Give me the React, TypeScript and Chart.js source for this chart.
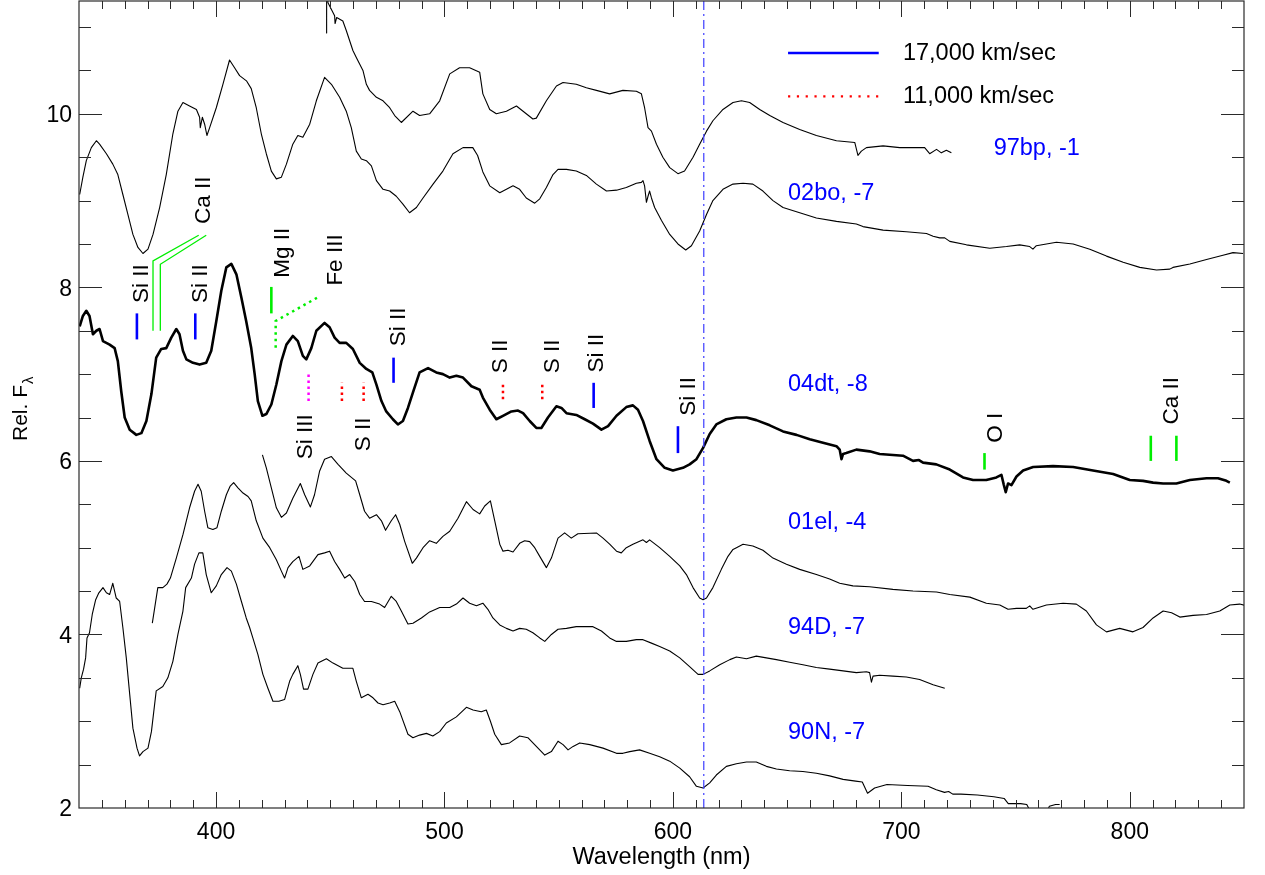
import React, { useEffect, useRef } from "react";
import { Chart, registerables } from "chart.js";

Chart.register(...registerables);

const X_MIN = 340;
const X_MAX = 850;
const Y_MIN = 2;
const Y_MAX = 11.3;
const X_TICKS = [400, 500, 600, 700, 800];
const Y_TICKS = [2, 4, 6, 8, 10];
const X_TITLE = "Wavelength (nm)";
const Y_TITLE = "Rel. F";
const Y_TITLE_SUB = "λ";

// [wavelength nm, relative flux]
const SN97BP: number[][] = [
  [448.3, 10.93], [448.4, 11.5], [449.0, 11.28], [451.9, 11.13], [452.1, 11.04], [452.8, 11.11],
  [455.5, 11.07], [457.0, 10.96], [459.9, 10.73], [461.4, 10.65], [464.3, 10.5], [465.8, 10.34],
  [467.2, 10.27], [470.2, 10.19], [473.1, 10.15], [476.0, 10.07], [478.2, 9.98], [481.1, 9.9],
  [486.2, 10.03], [489.1, 9.98], [493.5, 10.0], [497.9, 10.15], [502.3, 10.46], [506.6, 10.53],
  [511.0, 10.53], [515.4, 10.48], [516.8, 10.23], [519.8, 10.05], [522.7, 10.0], [527.1, 10.03],
  [531.5, 10.09], [534.4, 10.03], [538.7, 9.94], [540.2, 9.95], [544.6, 10.15], [549.0, 10.32],
  [551.9, 10.36], [557.7, 10.34], [562.1, 10.3], [566.5, 10.27], [572.3, 10.23], [578.1, 10.27],
  [584.0, 10.26], [586.2, 10.23], [587.6, 10.07], [589.1, 9.84], [590.6, 9.8], [592.8, 9.65],
  [595.6, 9.5], [598.6, 9.38], [602.2, 9.31], [605.1, 9.34], [608.8, 9.5], [611.7, 9.65],
  [614.7, 9.8], [617.5, 9.92], [621.9, 10.05], [626.3, 10.13], [630.0, 10.15], [633.6, 10.13],
  [638.0, 10.05], [642.4, 9.98], [648.2, 9.9], [655.5, 9.82], [662.8, 9.75], [671.6, 9.69],
  [679.6, 9.67], [681.0, 9.52], [682.5, 9.57], [684.7, 9.61], [692.0, 9.63], [699.3, 9.61],
  [710.2, 9.61], [712.4, 9.54], [715.4, 9.59], [717.5, 9.55], [719.7, 9.58], [721.9, 9.55],
];

const SN02BO: number[][] = [
  [340.3, 9.07], [341.7, 9.27], [343.2, 9.46], [345.4, 9.61], [347.6, 9.69], [349.0, 9.65],
  [352.0, 9.54], [354.8, 9.42], [357.0, 9.3], [359.2, 9.07], [361.4, 8.84], [363.6, 8.61],
  [365.8, 8.46], [368.0, 8.39], [370.2, 8.44], [372.4, 8.61], [375.3, 8.92], [378.2, 9.3],
  [381.1, 9.77], [383.3, 10.03], [385.5, 10.13], [388.4, 10.09], [391.4, 10.05], [392.8, 9.96],
  [393.1, 9.84], [394.0, 9.96], [395.0, 9.88], [396.0, 9.75], [397.2, 9.84], [400.1, 10.07],
  [403.0, 10.34], [405.9, 10.62], [408.1, 10.53], [410.3, 10.44], [413.3, 10.38], [415.4, 10.29],
  [417.6, 10.07], [419.8, 9.77], [422.0, 9.54], [424.2, 9.34], [426.4, 9.25], [428.6, 9.27],
  [430.8, 9.42], [433.6, 9.65], [435.8, 9.75], [438.0, 9.73], [441.0, 9.88], [443.9, 10.15],
  [447.5, 10.42], [450.5, 10.34], [454.1, 10.19], [457.0, 10.03], [459.2, 9.84], [461.4, 9.57],
  [463.6, 9.48], [465.8, 9.46], [468.0, 9.4], [470.2, 9.23], [473.1, 9.13], [476.0, 9.11],
  [478.9, 9.05], [481.8, 8.96], [484.7, 8.86], [487.7, 8.92], [490.6, 9.03], [495.0, 9.19],
  [499.3, 9.34], [503.7, 9.54], [508.1, 9.61], [512.4, 9.61], [514.5, 9.52], [516.8, 9.33],
  [519.8, 9.17], [524.2, 9.09], [527.1, 9.13], [530.0, 9.17], [532.9, 9.13], [535.8, 9.03],
  [539.5, 8.97], [541.7, 9.02], [544.6, 9.15], [547.5, 9.3], [549.7, 9.36], [553.4, 9.36],
  [557.7, 9.34], [562.1, 9.29], [566.5, 9.19], [570.9, 9.11], [575.3, 9.12], [579.6, 9.15],
  [584.0, 9.2], [586.2, 9.21], [586.9, 9.23], [587.6, 9.17], [588.4, 8.98], [589.1, 9.05],
  [589.8, 9.11], [590.6, 9.03], [592.0, 8.92], [595.0, 8.77], [598.6, 8.61], [602.2, 8.5],
  [605.6, 8.43], [608.1, 8.48], [611.7, 8.65], [614.7, 8.84], [617.5, 9.0], [621.9, 9.13],
  [626.3, 9.19], [630.7, 9.2], [635.0, 9.19], [639.4, 9.11], [643.8, 9.0], [648.2, 8.92],
  [655.5, 8.86], [662.8, 8.8], [671.6, 8.76], [680.3, 8.73], [683.2, 8.7], [692.0, 8.66],
  [702.2, 8.64], [711.0, 8.62], [713.9, 8.59], [716.8, 8.57], [719.0, 8.57], [721.2, 8.53],
  [728.5, 8.49], [738.7, 8.45], [746.0, 8.47], [751.8, 8.49], [756.2, 8.47], [757.6, 8.44],
  [759.1, 8.48], [767.9, 8.52], [775.2, 8.5], [782.5, 8.44], [789.8, 8.36], [797.1, 8.29],
  [804.4, 8.23], [811.7, 8.2], [817.5, 8.21], [818.9, 8.23], [826.3, 8.27], [833.6, 8.32],
  [840.8, 8.37], [845.2, 8.4], [849.6, 8.39],
];

const SN04DT: number[][] = [
  [340.3, 7.55], [341.7, 7.67], [343.2, 7.73], [344.6, 7.67], [346.1, 7.46], [347.6, 7.5],
  [349.0, 7.52], [350.5, 7.38], [353.4, 7.34], [355.6, 7.3], [357.0, 7.15], [358.5, 6.8],
  [360.0, 6.5], [362.2, 6.36], [365.1, 6.3], [367.3, 6.32], [369.5, 6.46], [371.7, 6.77],
  [373.8, 7.19], [376.0, 7.29], [378.2, 7.3], [380.4, 7.42], [382.6, 7.52], [384.0, 7.46],
  [385.5, 7.27], [387.0, 7.17], [389.9, 7.13], [392.8, 7.11], [395.7, 7.13], [397.9, 7.27],
  [400.1, 7.61], [402.3, 7.96], [404.5, 8.23], [406.7, 8.27], [408.9, 8.15], [411.1, 7.88],
  [413.2, 7.61], [415.4, 7.3], [416.9, 7.0], [418.3, 6.69], [420.3, 6.52], [422.0, 6.54],
  [424.2, 6.65], [426.4, 6.88], [428.6, 7.15], [430.8, 7.34], [433.6, 7.44], [435.8, 7.38],
  [438.0, 7.21], [439.5, 7.17], [441.7, 7.3], [443.9, 7.5], [447.5, 7.59], [449.7, 7.54],
  [451.9, 7.42], [454.1, 7.36], [457.0, 7.36], [459.9, 7.29], [462.9, 7.13], [465.8, 7.06],
  [468.4, 7.02], [470.2, 6.88], [472.4, 6.69], [474.5, 6.57], [477.4, 6.48], [479.6, 6.42],
  [481.8, 6.46], [484.0, 6.61], [486.2, 6.79], [489.1, 7.02], [492.8, 7.07], [496.4, 7.02],
  [499.3, 7.0], [502.3, 6.96], [505.2, 6.98], [508.1, 6.96], [511.8, 6.86], [515.4, 6.82],
  [516.8, 6.73], [519.8, 6.59], [522.7, 6.48], [525.6, 6.52], [529.3, 6.57], [532.2, 6.58],
  [534.4, 6.55], [537.3, 6.46], [540.2, 6.38], [542.4, 6.38], [545.3, 6.5], [549.0, 6.63],
  [551.2, 6.61], [553.4, 6.55], [557.7, 6.53], [561.4, 6.48], [565.0, 6.43], [568.7, 6.36],
  [571.6, 6.4], [575.3, 6.52], [579.6, 6.62], [582.5, 6.64], [584.7, 6.59], [586.9, 6.46],
  [589.8, 6.23], [592.8, 6.02], [596.4, 5.92], [600.0, 5.89], [604.4, 5.92], [607.3, 5.96],
  [610.3, 6.02], [613.2, 6.15], [616.1, 6.31], [619.0, 6.42], [623.4, 6.48], [627.8, 6.5],
  [632.2, 6.5], [636.5, 6.47], [642.4, 6.41], [648.2, 6.34], [654.1, 6.3], [659.9, 6.25],
  [665.7, 6.21], [671.6, 6.17], [673.0, 6.13], [673.8, 6.02], [674.5, 6.08], [675.9, 6.09],
  [680.3, 6.13], [686.1, 6.11], [690.5, 6.08], [700.7, 6.06], [705.1, 6.0], [707.7, 6.01],
  [709.5, 5.98], [715.3, 5.96], [721.2, 5.9], [727.0, 5.81], [731.4, 5.78], [737.2, 5.78],
  [741.6, 5.81], [743.8, 5.84], [744.8, 5.73], [745.7, 5.64], [746.7, 5.74], [748.2, 5.72],
  [750.4, 5.82], [753.3, 5.89], [757.7, 5.93], [766.4, 5.94], [775.2, 5.93], [783.9, 5.89],
  [792.7, 5.85], [800.0, 5.78], [805.8, 5.77], [810.2, 5.75], [814.6, 5.74], [820.4, 5.74],
  [826.3, 5.78], [833.6, 5.8], [838.6, 5.8], [842.3, 5.77], [843.8, 5.75],
];

const SN01EL: number[][] = [
  [420.3, 6.07], [422.0, 5.92], [424.2, 5.69], [426.4, 5.46], [428.6, 5.35], [430.8, 5.4],
  [433.6, 5.57], [436.9, 5.74], [438.8, 5.61], [441.3, 5.47], [443.1, 5.61], [445.3, 5.88],
  [447.5, 6.02], [450.5, 6.05], [453.4, 5.96], [457.0, 5.86], [461.1, 5.77], [462.9, 5.61],
  [465.0, 5.42], [467.2, 5.34], [470.2, 5.38], [472.4, 5.31], [474.2, 5.2], [476.7, 5.31],
  [478.6, 5.38], [480.4, 5.27], [482.6, 5.07], [485.9, 4.82], [487.7, 4.88], [490.6, 5.0],
  [493.5, 5.08], [496.4, 5.05], [499.3, 5.13], [502.3, 5.19], [505.9, 5.34], [509.6, 5.53],
  [512.5, 5.44], [515.4, 5.39], [517.6, 5.48], [520.1, 5.54], [522.0, 5.31], [524.2, 5.04],
  [525.6, 4.96], [527.8, 4.97], [530.0, 4.95], [532.9, 5.05], [535.1, 5.08], [537.3, 5.07],
  [539.5, 5.0], [541.7, 4.9], [544.6, 4.77], [546.8, 4.88], [549.7, 5.11], [552.6, 5.17],
  [555.5, 5.11], [558.4, 5.16], [566.5, 5.17], [569.4, 5.11], [572.3, 5.04], [575.3, 4.96],
  [577.4, 4.94], [579.6, 5.0], [582.5, 5.04], [586.9, 5.09], [588.4, 5.06], [589.8, 5.09],
  [594.2, 5.0], [598.6, 4.9], [603.0, 4.79], [605.9, 4.69], [608.8, 4.54], [611.7, 4.42],
  [613.2, 4.4], [614.7, 4.42], [617.5, 4.54], [621.2, 4.75], [624.1, 4.9], [626.3, 4.98],
  [627.8, 5.0], [630.7, 5.04], [635.0, 5.02], [639.4, 4.97], [643.8, 4.88], [649.7, 4.81],
  [655.5, 4.75], [662.8, 4.69], [668.6, 4.64], [673.0, 4.59], [678.8, 4.56], [686.1, 4.55],
  [696.3, 4.52], [705.1, 4.5], [715.4, 4.49], [721.2, 4.46], [730.0, 4.43], [737.2, 4.36],
  [743.1, 4.34], [746.7, 4.29], [750.4, 4.3], [754.7, 4.3], [756.2, 4.33], [757.6, 4.29],
  [763.5, 4.34], [770.8, 4.36], [776.6, 4.35], [781.0, 4.27], [785.4, 4.11], [789.8, 4.03],
  [795.6, 4.07], [801.4, 4.03], [805.8, 4.08], [810.2, 4.19], [814.6, 4.27], [818.3, 4.25],
  [821.9, 4.2], [827.7, 4.22], [833.6, 4.23], [839.4, 4.27], [843.8, 4.34], [848.1, 4.35],
  [851.1, 4.33],
];

const SN94D: number[][] = [
  [372.1, 4.13], [373.1, 4.3], [374.5, 4.54], [376.7, 4.54], [378.5, 4.58], [380.0, 4.65],
  [382.6, 4.88], [385.5, 5.15], [388.4, 5.46], [390.6, 5.65], [392.1, 5.73], [393.5, 5.65],
  [395.0, 5.42], [396.4, 5.23], [398.6, 5.21], [400.4, 5.23], [402.3, 5.42], [404.5, 5.61],
  [406.2, 5.71], [407.7, 5.75], [409.6, 5.69], [411.8, 5.63], [414.0, 5.59], [415.4, 5.54],
  [417.6, 5.31], [420.5, 5.11], [423.5, 5.0], [426.4, 4.86], [428.6, 4.73], [430.0, 4.65],
  [431.5, 4.77], [433.6, 4.84], [436.3, 4.9], [438.0, 4.75], [441.0, 4.79], [444.6, 4.92],
  [447.5, 4.94], [449.7, 4.96], [451.9, 4.84], [454.1, 4.75], [456.3, 4.65], [458.5, 4.69],
  [460.7, 4.61], [462.9, 4.46], [465.0, 4.38], [468.0, 4.38], [471.6, 4.35], [473.8, 4.31],
  [476.7, 4.44], [478.9, 4.38], [481.1, 4.27], [484.0, 4.12], [486.2, 4.13], [489.9, 4.19],
  [493.5, 4.26], [497.9, 4.31], [502.3, 4.31], [505.2, 4.35], [508.1, 4.42], [511.0, 4.36],
  [514.0, 4.33], [516.8, 4.36], [519.0, 4.29], [521.2, 4.19], [524.2, 4.11], [527.1, 4.07],
  [530.0, 4.04], [532.9, 4.07], [535.8, 4.06], [538.7, 4.02], [541.7, 3.96], [543.9, 3.92],
  [546.8, 4.0], [549.7, 4.06], [553.4, 4.07], [557.7, 4.09], [561.4, 4.09], [565.0, 4.09],
  [568.7, 4.04], [572.3, 3.96], [575.3, 3.92], [579.6, 3.92], [584.0, 3.94], [586.9, 3.94],
  [590.6, 3.9], [594.2, 3.86], [598.6, 3.81], [603.0, 3.73], [607.3, 3.63], [611.0, 3.54],
  [613.2, 3.54], [616.1, 3.58], [620.5, 3.65], [624.9, 3.71], [627.8, 3.74], [632.2, 3.72],
  [636.5, 3.75], [640.9, 3.73], [645.3, 3.71], [651.1, 3.68], [656.9, 3.65], [662.8, 3.62],
  [668.6, 3.6], [674.5, 3.58], [680.3, 3.56], [684.7, 3.57], [686.1, 3.56], [686.9, 3.45],
  [687.6, 3.52], [690.5, 3.53], [696.3, 3.52], [702.2, 3.51], [708.0, 3.48], [713.9, 3.42],
  [719.0, 3.38],
];

const SN90N: number[][] = [
  [340.3, 3.38], [341.0, 3.5], [342.0, 3.6], [342.9, 3.73], [343.5, 3.96], [344.6, 4.02],
  [345.8, 4.23], [347.3, 4.4], [348.7, 4.48], [350.5, 4.54], [352.0, 4.48], [353.4, 4.46],
  [354.8, 4.59], [356.3, 4.42], [357.8, 4.38], [359.2, 4.08], [360.7, 3.73], [362.2, 3.31],
  [363.6, 2.92], [365.4, 2.69], [366.5, 2.6], [368.0, 2.65], [370.2, 2.69], [371.7, 2.88],
  [373.8, 3.35], [376.7, 3.4], [378.9, 3.5], [381.1, 3.69], [383.3, 4.0], [385.5, 4.27],
  [386.7, 4.54], [389.2, 4.65], [390.6, 4.81], [392.5, 4.94], [394.2, 4.94], [395.7, 4.69],
  [397.9, 4.48], [400.1, 4.56], [402.3, 4.69], [404.8, 4.77], [406.7, 4.73], [408.9, 4.58],
  [411.1, 4.38], [413.2, 4.19], [414.7, 4.08], [416.1, 3.96], [418.3, 3.77], [420.5, 3.54],
  [422.7, 3.38], [424.9, 3.23], [427.5, 3.23], [430.0, 3.25], [432.2, 3.46], [433.6, 3.54],
  [435.8, 3.64], [436.9, 3.54], [438.3, 3.37], [440.2, 3.37], [442.4, 3.54], [444.6, 3.67],
  [448.3, 3.72], [451.2, 3.67], [455.5, 3.61], [459.9, 3.61], [461.4, 3.46], [463.6, 3.27],
  [466.5, 3.31], [468.7, 3.27], [470.9, 3.21], [473.1, 3.19], [476.0, 3.21], [478.2, 3.23],
  [480.4, 3.11], [484.0, 2.85], [486.2, 2.81], [489.1, 2.84], [492.1, 2.86], [494.9, 2.83],
  [497.9, 2.88], [500.8, 2.98], [505.2, 3.05], [509.6, 3.16], [512.5, 3.13], [516.1, 3.11],
  [518.3, 3.13], [520.1, 3.0], [522.0, 2.85], [524.9, 2.73], [528.5, 2.75], [532.9, 2.83],
  [536.5, 2.81], [540.2, 2.71], [543.9, 2.61], [546.8, 2.65], [549.7, 2.77], [551.9, 2.73],
  [554.1, 2.67], [556.3, 2.71], [559.2, 2.75], [563.6, 2.73], [569.4, 2.69], [575.3, 2.63],
  [578.1, 2.63], [581.1, 2.65], [585.4, 2.67], [589.8, 2.63], [594.2, 2.59], [598.6, 2.54],
  [603.0, 2.46], [607.3, 2.36], [610.3, 2.25], [613.2, 2.23], [616.1, 2.29], [619.0, 2.38],
  [623.4, 2.48], [627.8, 2.51], [632.2, 2.53], [636.5, 2.53], [640.9, 2.48], [645.3, 2.45],
  [651.1, 2.43], [656.9, 2.42], [662.8, 2.4], [668.6, 2.37], [674.5, 2.33], [680.0, 2.31],
  [682.9, 2.3], [685.2, 2.17], [688.3, 2.23], [693.7, 2.27], [702.7, 2.26], [711.7, 2.25],
  [715.3, 2.21], [718.9, 2.18], [720.7, 2.19], [722.5, 2.16], [726.1, 2.16], [733.3, 2.15],
  [740.5, 2.13], [745.0, 2.11], [746.8, 2.05], [749.6, 2.05], [752.2, 2.05], [754.9, 2.04],
  [755.7, 2.0], [756.7, 1.9], [760.5, 1.82], [763.0, 1.91], [764.8, 2.02], [767.5, 2.04],
  [769.3, 2.04],
];

const SPECTRA = [SN97BP, SN02BO, SN04DT, SN01EL, SN94D, SN90N];
const SPECTRA_NAMES = ["97bp, -1", "02bo, -7", "04dt, -8", "01el, -4", "94D, -7", "90N, -7"];
const NAME_WL = [740.4, 650.4, 650.4, 650.4, 650.4, 650.4];
const NAME_FLUX = [9.6, 9.085, 6.882, 5.286, 4.08, 2.868];

// line-identification markers: [wl...], [flux...]
const BLUE = "#0000ff";
const GREEN = "#00ee00";
const RED = "#ff0000";
const MAGENTA = "#ff00ff";
const MARKERS = [
  { wl: [365.35, 365.35], fl: [7.4, 7.7], c: BLUE, d: [], w: 2.6 },
  { wl: [372.4, 372.4, 392.4], fl: [7.5, 8.305, 8.6], c: GREEN, d: [], w: 1.3 },
  { wl: [375.6, 375.6, 395.7], fl: [7.5, 8.266, 8.6], c: GREEN, d: [], w: 1.3 },
  { wl: [390.9, 390.9], fl: [7.4, 7.7], c: BLUE, d: [], w: 2.6 },
  { wl: [424.2, 424.2], fl: [7.7, 8.005], c: GREEN, d: [], w: 2.6 },
  { wl: [426.1, 426.1, 444.2], fl: [7.305, 7.612, 7.88], c: GREEN, d: [2.5, 4], w: 2.5 },
  { wl: [440.5, 440.5], fl: [6.69, 7.005], c: MAGENTA, d: [2.5, 3.5], w: 2.5 },
  { wl: [455.1, 455.1], fl: [6.69, 6.9], c: RED, d: [2.5, 3.5], w: 2.5 },
  { wl: [464.6, 464.6], fl: [6.69, 6.9], c: RED, d: [2.5, 3.5], w: 2.5 },
  { wl: [477.7, 477.7], fl: [6.9, 7.19], c: BLUE, d: [], w: 2.6 },
  { wl: [525.6, 525.6], fl: [6.71, 6.9], c: RED, d: [2.5, 3.5], w: 2.5 },
  { wl: [542.8, 542.8], fl: [6.71, 6.9], c: RED, d: [2.5, 3.5], w: 2.5 },
  { wl: [565.3, 565.3], fl: [6.61, 6.9], c: BLUE, d: [], w: 2.6 },
  { wl: [602.2, 602.2], fl: [6.09, 6.4], c: BLUE, d: [], w: 2.6 },
  { wl: [736.4, 736.4], fl: [5.9, 6.09], c: GREEN, d: [], w: 2.6 },
  { wl: [809.2, 809.2], fl: [6.0, 6.29], c: GREEN, d: [], w: 2.6 },
  { wl: [820.4, 820.4], fl: [6.0, 6.29], c: GREEN, d: [], w: 2.6 },
];

const ION_TEXT = ["Si II", "Ca II", "Si II", "Mg II", "Fe III", "Si III", "S II", "Si II", "S II", "S II", "Si II", "Si II", "O I", "Ca II"];
const ION_WL = [366.5, 393.9, 392.5, 428.6, 451.6, 438.4, 464.0, 479.3, 523.8, 546.8, 566.0, 606.0, 740.5, 817.7];
const ION_FLUX = [7.82, 8.73, 7.82, 8.11, 8.02, 6.02, 6.11, 7.32, 7.01, 7.01, 7.02, 6.52, 6.21, 6.42];

const VEL_WL = 613.5;
const LEGEND_TEXT = ["17,000 km/sec", "11,000 km/sec"];
const LEGEND_WL = [650.4, 690.1, 700.7];
const LEGEND_FLUX = [10.7, 10.2];

const FONT = '"Liberation Sans", Arial, Helvetica, sans-serif';

const overlayPlugin = {
  id: "overlay",
  afterDraw(chart: any) {
    const { ctx, chartArea: a, scales } = chart;
    const xs = scales.x;
    const ys = scales.y;
    ctx.save();
    // frame
    ctx.strokeStyle = "#2a2a2a";
    ctx.lineWidth = 1.2;
    ctx.setLineDash([]);
    ctx.strokeRect(a.left, a.top, a.right - a.left, a.bottom - a.top);
    // x ticks (inward, top and bottom)
    ctx.lineWidth = 1;
    ctx.beginPath();
    for (let v = X_MIN + 10; v < X_MAX; v += 10) {
      const px = Math.round(xs.getPixelForValue(v)) + 0.5;
      const len = v % 100 === 0 ? 16 : 8;
      ctx.moveTo(px, a.bottom);
      ctx.lineTo(px, a.bottom - len);
      ctx.moveTo(px, a.top);
      ctx.lineTo(px, a.top + len);
    }
    for (let v = Y_MIN + 0.5; v < Y_MAX; v += 0.5) {
      const py = Math.round(ys.getPixelForValue(v)) + 0.5;
      const len = Math.abs(v % 2) < 1e-6 ? 23 : 12;
      ctx.moveTo(a.left, py);
      ctx.lineTo(a.left + len, py);
      ctx.moveTo(a.right, py);
      ctx.lineTo(a.right - len, py);
    }
    ctx.stroke();

    // tick labels
    ctx.fillStyle = "#000";
    ctx.font = `23px ${FONT}`;
    ctx.textAlign = "center";
    ctx.textBaseline = "alphabetic";
    X_TICKS.forEach((v) => ctx.fillText(String(v), xs.getPixelForValue(v), a.bottom + 31));
    ctx.textAlign = "right";
    Y_TICKS.forEach((v) => ctx.fillText(String(v), a.left - 7, ys.getPixelForValue(v) + 8.3));

    // axis titles
    ctx.textAlign = "center";
    ctx.font = `23.5px ${FONT}`;
    ctx.fillText(X_TITLE, (a.left + a.right) / 2, 864);
    ctx.save();
    ctx.translate(27, 441);
    ctx.rotate(-Math.PI / 2);
    ctx.textAlign = "left";
    ctx.font = `21px ${FONT}`;
    ctx.fillText(Y_TITLE, 0, 0);
    const w = ctx.measureText(Y_TITLE).width;
    ctx.font = `15px ${FONT}`;
    ctx.fillText(Y_TITLE_SUB, w + 1, 6);
    ctx.restore();

    // ion labels (rotated)
    ctx.font = `22.5px ${FONT}`;
    ION_TEXT.forEach((t, i) => {
      const px = xs.getPixelForValue(ION_WL[i]);
      const py = ys.getPixelForValue(ION_FLUX[i]);
      ctx.save();
      ctx.translate(px + 8, py);
      ctx.rotate(-Math.PI / 2);
      ctx.textAlign = "left";
      ctx.textBaseline = "alphabetic";
      ctx.fillText(t, 0, 0);
      ctx.restore();
    });

    // spectrum names
    ctx.fillStyle = BLUE;
    ctx.font = `23.5px ${FONT}`;
    ctx.textAlign = "left";
    ctx.textBaseline = "middle";
    SPECTRA_NAMES.forEach((t, i) => {
      ctx.fillText(t, xs.getPixelForValue(NAME_WL[i]), ys.getPixelForValue(NAME_FLUX[i]));
    });

    // legend text
    ctx.fillStyle = "#000";
    LEGEND_TEXT.forEach((t, i) => {
      ctx.fillText(t, xs.getPixelForValue(LEGEND_WL[2]), ys.getPixelForValue(LEGEND_FLUX[i]));
    });
    ctx.restore();
  },
};

function pts(wl: number[], fl: number[]) {
  return wl.map((x, i) => ({ x, y: fl[i] }));
}

export default function App() {
  const ref = useRef<HTMLCanvasElement | null>(null);
  useEffect(() => {
    if (!ref.current) return;
    const datasets: any[] = [];
    // velocity reference line
    datasets.push({
      data: pts([VEL_WL, VEL_WL], [Y_MIN, Y_MAX]),
      borderColor: "#4b4bff",
      borderWidth: 1.3,
      borderDash: [9, 4, 2, 4],
    });
    MARKERS.forEach((m) => {
      datasets.push({ data: pts(m.wl, m.fl), borderColor: m.c, borderWidth: m.w, borderDash: m.d });
    });
    // legend lines
    datasets.push({
      data: pts([LEGEND_WL[0], LEGEND_WL[1]], [LEGEND_FLUX[0], LEGEND_FLUX[0]]),
      borderColor: BLUE,
      borderWidth: 2.4,
    });
    datasets.push({
      data: pts([LEGEND_WL[0], LEGEND_WL[1]], [LEGEND_FLUX[1], LEGEND_FLUX[1]]),
      borderColor: RED,
      borderWidth: 2.2,
      borderDash: [2.2, 6.6],
    });
    SPECTRA.forEach((s, i) => {
      datasets.push({
        data: s.map((p) => ({ x: p[0], y: p[1] })),
        borderColor: "#000",
        borderWidth: i === 2 ? 2.6 : 1.1,
        borderJoinStyle: "round",
      });
    });
    datasets.forEach((d) => {
      d.showLine = true;
      d.pointRadius = 0;
      d.pointHoverRadius = 0;
      d.tension = 0;
      d.fill = false;
    });

    const chart = new Chart(ref.current, {
      type: "scatter",
      data: { datasets },
      options: {
        animation: false,
        responsive: false,
        events: [],
        layout: { padding: { left: 0, right: 21, top: 1, bottom: 0 } },
        plugins: { legend: { display: false }, tooltip: { enabled: false } },
        scales: {
          x: {
            type: "linear",
            min: X_MIN,
            max: X_MAX,
            grid: { display: false },
            border: { display: false },
            ticks: { display: false },
            afterFit: (s: any) => {
              s.height = 67;
            },
          },
          y: {
            type: "linear",
            min: Y_MIN,
            max: Y_MAX,
            grid: { display: false },
            border: { display: false },
            ticks: { display: false },
            afterFit: (s: any) => {
              s.width = 79;
            },
          },
        },
      },
      plugins: [overlayPlugin],
    } as any);
    return () => chart.destroy();
  }, []);

  return (
    <div style={{ position: "fixed", left: 0, top: 0, width: 1265, height: 875, background: "#fff" }}>
      <canvas ref={ref} width={1265} height={875} style={{ display: "block" }} />
    </div>
  );
}
